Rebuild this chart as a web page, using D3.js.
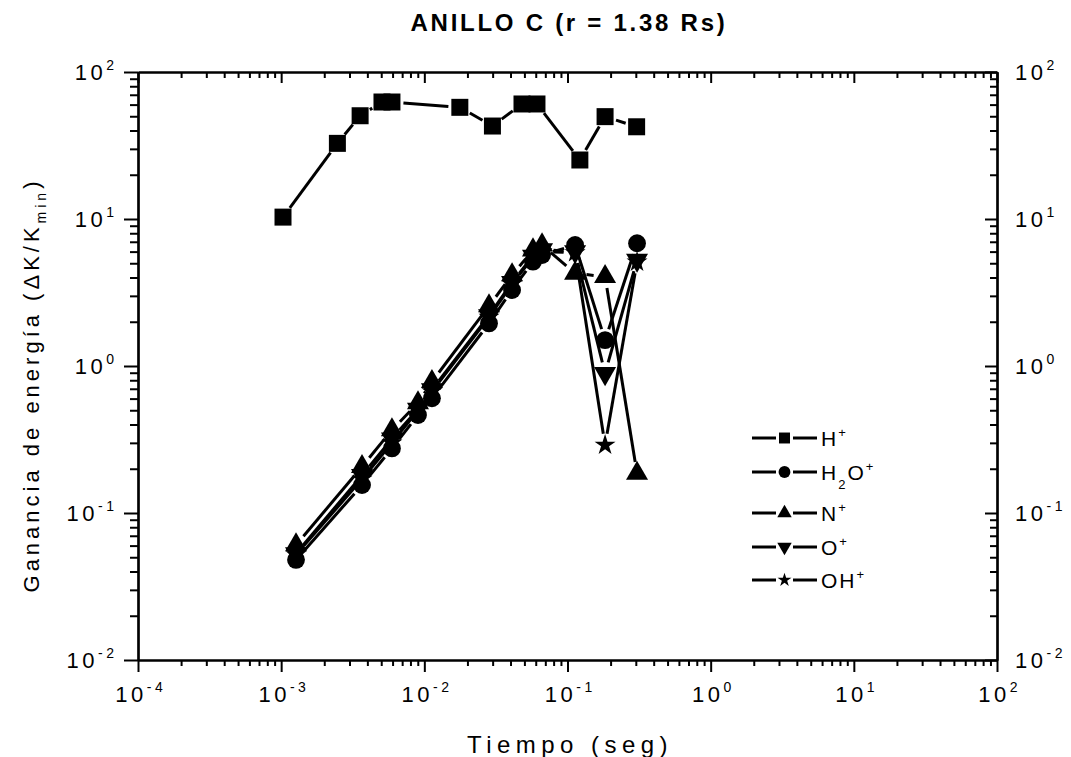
<!DOCTYPE html>
<html>
<head>
<meta charset="utf-8">
<script src="https://cdn.jsdelivr.net/npm/d3@7"></script>
<style>
  body { margin: 0; background: #fff; }
  text { font-family: "Liberation Sans", Arial, Helvetica, sans-serif; fill: #000; }
</style>
</head>
<body>
<svg id="chart" width="1071" height="757"></svg>
<script>
// ---- Datos: ganancia de energía vs tiempo, anillo C ----
const tiempoH = [1.03e-3, 2.47e-3, 3.56e-3, 5.06e-3, 5.94e-3, 1.77e-2, 2.99e-2, 4.81e-2, 6.12e-2, 0.122, 0.183, 0.304];
const gananciaH = [10.3, 32.7, 50.4, 62.5, 62.5, 57.5, 42.9, 60.6, 60.6, 25.2, 49.7, 42.4];

const tiempoIones = [1.27e-3, 3.67e-3, 5.94e-3, 9.03e-3, 1.13e-2, 2.83e-2, 4.10e-2, 5.74e-2, 6.64e-2, 0.113, 0.183, 0.306];
const gananciaH2O = [0.048, 0.155, 0.275, 0.464, 0.603, 1.95, 3.29, 5.13, 5.69, 6.65, 1.50, 6.84];
const gananciaN   = [0.0606, 0.2065, 0.367, 0.560, 0.782, 2.56, 4.16, 6.15, 6.65, 4.27, 4.05, 0.186];
const gananciaO   = [0.053, 0.180, 0.320, 0.510, 0.690, 2.20, 3.70, 5.60, 6.20, 6.00, 0.89, 5.26];
const gananciaOH  = [0.052, 0.170, 0.300, 0.500, 0.670, 2.15, 3.60, 5.50, 6.00, 5.90, 0.29, 5.10];

// Etiquetas de la leyenda: [texto, tipo] con tipo "n" normal, "sup" superíndice, "sub" subíndice
const etiquetaH   = [["H", "n"], ["+", "sup"]];
const etiquetaH2O = [["H", "n"], ["2", "sub"], ["O", "n"], ["+", "sup"]];
const etiquetaN   = [["N", "n"], ["+", "sup"]];
const etiquetaO   = [["O", "n"], ["+", "sup"]];
const etiquetaOH  = [["OH", "n"], ["+", "sup"]];

// Marcas de los ejes (décadas) y sus exponentes
const decadasX = [1e-4, 1e-3, 1e-2, 1e-1, 1e0, 1e1, 1e2];
const exponentesX = ["-4", "-3", "-2", "-1", "0", "1", "2"];
const decadasY = [1e-2, 1e-1, 1e0, 1e1, 1e2];
const exponentesY = ["-2", "-1", "0", "1", "2"];

const titulo = "ANILLO C (r = 1.38 Rs)";
const tituloX = "Tiempo (seg)";

// ---- Geometría ----
const area = { left: 138, right: 997, top: 72, bottom: 660 };
const svg = d3.select("#chart");

const x = d3.scaleLog().domain([1e-4, 1e2]).range([area.left, area.right]);
const y = d3.scaleLog().domain([1e-2, 1e2]).range([area.bottom, area.top]);

function menores(decadas) {
  const out = [];
  decadas.slice(0, -1).forEach(d => { for (let k = 2; k <= 9; k++) out.push(d * k); });
  return out;
}
const menoresX = menores(decadasX);
const menoresY = menores(decadasY);

// ---- Ejes ----
function eje(gen, transform, valores, largo) {
  const g = svg.append("g").attr("transform", transform)
    .call(gen.tickValues(valores).tickSize(largo).tickSizeOuter(0).tickFormat(""));
  g.selectAll(".tick line").attr("stroke", "#000").attr("stroke-width", 2);
  g.select(".domain").attr("stroke", "#000").attr("stroke-width", 2.2);
  return g;
}
// inferior (hacia afuera) y superior (hacia adentro)
eje(d3.axisBottom(x), `translate(0,${area.bottom})`, menoresX, 6);
eje(d3.axisBottom(x), `translate(0,${area.bottom})`, decadasX, 12);
eje(d3.axisTop(x), `translate(0,${area.top})`, menoresX, -6);
eje(d3.axisTop(x), `translate(0,${area.top})`, decadasX, -11);
// izquierdo (hacia afuera) y derecho (hacia adentro)
eje(d3.axisLeft(y), `translate(${area.left},0)`, menoresY, 8);
eje(d3.axisLeft(y), `translate(${area.left},0)`, decadasY, 14);
eje(d3.axisRight(y), `translate(${area.right},0)`, menoresY, -7);
eje(d3.axisRight(y), `translate(${area.right},0)`, decadasY, -12);

// Etiquetas 10^n (con el espaciado amplio del texto original)
const esp = 3.5;
function potencia(g, px, py, exp, anchor) {
  const dx = anchor === "end" ? esp : anchor === "middle" ? esp / 2 : 0;
  const t = g.append("text").attr("x", px + dx).attr("y", py)
    .attr("text-anchor", anchor).attr("font-size", 22).attr("letter-spacing", esp);
  t.append("tspan").text("10");
  t.append("tspan").attr("dy", -10).attr("font-size", 14).text(exp);
  return t;
}
const etiquetas = svg.append("g");
decadasX.forEach((d, i) => potencia(etiquetas, x(d) + 1, 702, exponentesX[i], "middle"));
decadasY.forEach((d, i) => potencia(etiquetas, 114, y(d) + 8, exponentesY[i], "end"));
decadasY.forEach((d, i) => potencia(etiquetas, 1015, y(d) + 8, exponentesY[i], "start"));

// Ajusta el espaciado entre letras a un ancho dado
function ajustar(t, ancho) {
  const n = t.text().length;
  const w = t.node().getComputedTextLength();
  const s = (ancho - w) / n;
  t.attr("letter-spacing", s.toFixed(2));
  return s;
}

// Título
const tTitulo = svg.append("text").attr("x", 569).attr("y", 31)
  .attr("text-anchor", "middle").attr("font-size", 24).attr("font-weight", "bold")
  .text(titulo);
ajustar(tTitulo, 317);

// Título del eje X
const tX = svg.append("text").attr("x", 570).attr("y", 753)
  .attr("text-anchor", "middle").attr("font-size", 24).text(tituloX);
ajustar(tX, 206);

// Título del eje Y
const tY = svg.append("text").attr("transform", "translate(39,385) rotate(-90)")
  .attr("text-anchor", "middle").attr("font-size", 22);
tY.append("tspan").text("Ganancia de energía (ΔK/K");
tY.append("tspan").attr("dy", 7).attr("font-size", 14).text("min");
tY.append("tspan").attr("dy", -7).text(")");
ajustar(tY, 415);

// ---- Series ----
const gap = 11.5;
function serie(tiempos, valores, simbolo, tam, rot) {
  const g = svg.append("g");
  const pts = tiempos.map((t, i) => [x(t), y(valores[i])]);
  for (let i = 0; i < pts.length - 1; i++) {
    const [x0, y0] = pts[i], [x1, y1] = pts[i + 1];
    const L = Math.hypot(x1 - x0, y1 - y0);
    if (L <= 2 * gap) continue;
    const ux = (x1 - x0) / L, uy = (y1 - y0) / L;
    g.append("line")
      .attr("x1", x0 + ux * gap).attr("y1", y0 + uy * gap)
      .attr("x2", x1 - ux * gap).attr("y2", y1 - uy * gap)
      .attr("stroke", "#000").attr("stroke-width", 3);
  }
  g.selectAll("path.m").data(tiempos.map((t, i) => [t, valores[i]])).join("path")
    .attr("class", "m")
    .attr("d", d3.symbol().type(simbolo).size(tam))
    .attr("transform", d => `translate(${x(d[0])},${y(d[1])}) rotate(${rot})`)
    .attr("fill", "#000");
}
serie(tiempoH, gananciaH, d3.symbolSquare, 289, 0);
serie(tiempoIones, gananciaH2O, d3.symbolCircle, 250, 0);
serie(tiempoIones, gananciaN, d3.symbolTriangle, 210, 0);
serie(tiempoIones, gananciaO, d3.symbolTriangle, 210, 180);
serie(tiempoIones, gananciaOH, d3.symbolStar, 136, 0);

// ---- Leyenda ----
const leyenda = [
  { etiqueta: etiquetaH, simbolo: d3.symbolSquare, tam: 120, rot: 0, fila: 438 },
  { etiqueta: etiquetaH2O, simbolo: d3.symbolCircle, tam: 110, rot: 0, fila: 472 },
  { etiqueta: etiquetaN, simbolo: d3.symbolTriangle, tam: 90, rot: 0, fila: 513 },
  { etiqueta: etiquetaO, simbolo: d3.symbolTriangle, tam: 90, rot: 180, fila: 547 },
  { etiqueta: etiquetaOH, simbolo: d3.symbolStar, tam: 60, rot: 0, fila: 580 }
];
const gl = svg.append("g");
leyenda.forEach(e => {
  gl.append("line").attr("x1", 752).attr("x2", 776).attr("y1", e.fila).attr("y2", e.fila)
    .attr("stroke", "#000").attr("stroke-width", 3);
  gl.append("line").attr("x1", 793).attr("x2", 817).attr("y1", e.fila).attr("y2", e.fila)
    .attr("stroke", "#000").attr("stroke-width", 3);
  gl.append("path").attr("d", d3.symbol().type(e.simbolo).size(e.tam)())
    .attr("transform", `translate(784.5,${e.fila}) rotate(${e.rot})`).attr("fill", "#000");
  const t = gl.append("text").attr("x", 821).attr("y", e.fila + 8)
    .attr("font-size", 21).attr("letter-spacing", 2);
  let nivel = 0;
  e.etiqueta.forEach(([txt, tipo]) => {
    const destino = tipo === "sup" ? -9 : tipo === "sub" ? 9 : 0;
    const ts = t.append("tspan").attr("dy", destino - nivel).text(txt);
    if (tipo !== "n") ts.attr("font-size", 13);
    nivel = destino;
  });
});
</script>
</body>
</html>
